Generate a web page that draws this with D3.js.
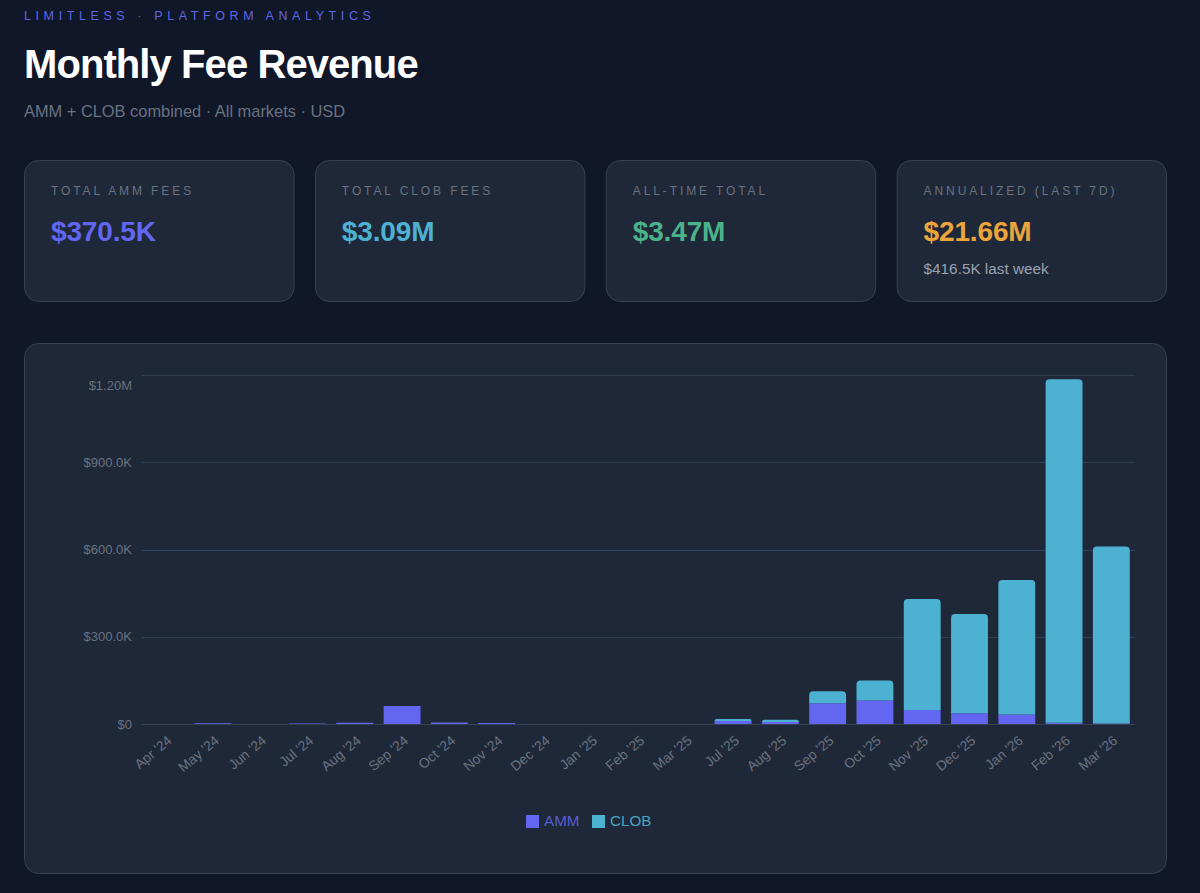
<!DOCTYPE html>
<html><head><meta charset="utf-8">
<script src="https://cdn.jsdelivr.net/npm/d3@7"></script>
<style>
html,body{margin:0;padding:0;background:#0f1728;overflow:hidden}
svg{display:block}
text{font-family:"Liberation Sans",Arial,sans-serif}
</style></head><body><svg id="c" width="1200" height="893"></svg>
<script>
const categories=["Apr '24","May '24","Jun '24","Jul '24","Aug '24","Sep '24","Oct '24","Nov '24","Dec '24","Jan '25","Feb '25","Mar '25","Jul '25","Aug '25","Sep '25","Oct '25","Nov '25","Dec '25","Jan '26","Feb '26","Mar '26"];
const ammValues=[300,2500,300,1500,4500,62000,5000,3500,400,200,200,200,10000,7000,71000,81000,48000,37000,33000,4000,2000];
const clobValues=[0,0,0,0,0,0,0,0,0,0,0,0,7000,8000,42000,69000,382000,341000,462000,1181000,608000];
const yTickValues=[0,300000,600000,900000,1200000];
const yTickLabels=["$0","$300.0K","$600.0K","$900.0K","$1.20M"];
const seriesNames=["AMM","CLOB"];
const seriesColors=["#6366f1","#4db2d2"];
const legendTextColors=["#5a5ed0","#4aa5bf"];
const kpiLabels=["TOTAL AMM FEES","TOTAL CLOB FEES","ALL-TIME TOTAL","ANNUALIZED (LAST 7D)"];
const kpiValues=["$370.5K","$3.09M","$3.47M","$21.66M"];
const kpiColors=["#6366f1","#4db2d2","#4cb28a","#eca53a"];
const kpiNotes=["","","","$416.5K last week"];

const svg=d3.select("#c");
svg.append("rect").attr("width",1200).attr("height",893).attr("fill","#0f1728");
svg.append("text").attr("x",24).attr("y",20).attr("font-size",12.5).attr("letter-spacing",4.6).attr("fill","#6166e6").text("LIMITLESS · PLATFORM ANALYTICS");
svg.append("text").attr("x",24).attr("y",78).attr("font-size",40).attr("font-weight",700).attr("letter-spacing",-0.92).attr("fill","#ffffff").text("Monthly Fee Revenue");
svg.append("text").attr("x",24).attr("y",117).attr("font-size",16.4).attr("fill","#6b7280").text("AMM + CLOB combined · All markets · USD");

const cardX=d3.scalePoint().domain(d3.range(4)).range([24,896.6]);
const cards=svg.selectAll("g.card").data(kpiLabels).join("g").attr("class","card").attr("transform",(d,i)=>`translate(${cardX(i)},160)`);
cards.append("rect").attr("x",.5).attr("y",.5).attr("width",269.5).attr("height",141).attr("rx",14).attr("fill","#1e2839").attr("stroke","#374151");
cards.append("text").attr("x",27).attr("y",35).attr("font-size",12).attr("letter-spacing",2.9).attr("fill","#6b7280").text(d=>d);
cards.append("text").attr("x",27).attr("y",81).attr("font-size",28).attr("font-weight",700).attr("letter-spacing",-0.15).attr("fill",(d,i)=>kpiColors[i]).text((d,i)=>kpiValues[i]);
cards.append("text").attr("x",27).attr("y",114).attr("font-size",15.3).attr("fill","#9ca3af").text((d,i)=>kpiNotes[i]);

svg.append("rect").attr("x",24.5).attr("y",343.5).attr("width",1142).attr("height",530).attr("rx",14).attr("fill","#1e2839").attr("stroke","#374151");

const x=d3.scaleBand().domain(categories).range([142,1135]).paddingInner(0.22).paddingOuter(0.11);
const y=d3.scaleLinear().domain([0,1200000]).range([724,375]);

const gridColors=["#374151","#2f3d52","#2c4160","#2f3d52","#2f3d52"];
svg.append("g").selectAll("line").data(yTickValues).join("line")
  .attr("x1",142).attr("x2",1135).attr("y1",d=>Math.round(y(d))+.5).attr("y2",d=>Math.round(y(d))+.5)
  .attr("stroke",(d,i)=>gridColors[i]);

const yAxis=svg.append("g").attr("transform","translate(142,0)")
  .call(d3.axisLeft(y).tickValues(yTickValues).tickFormat((d,i)=>yTickLabels[i]).tickSize(0).tickPadding(10));
yAxis.select(".domain").remove();
yAxis.selectAll("text").attr("font-size",13).attr("fill","#6b7280").attr("font-family",'"Liberation Sans",Arial,sans-serif')
  .attr("dy",(d)=>d===1200000?"1.09em":"0.32em");

const rows=categories.map((c,i)=>({cat:c,AMM:ammValues[i],CLOB:clobValues[i]}));
const stacked=d3.stack().keys(seriesNames)(rows);
const R=4;
function barPath(d,rounded){
  const x0=x(d.data.cat),w=x.bandwidth(),t=y(d[1]),b=y(d[0]);
  const r=rounded?Math.min(R,(b-t)):0;
  return `M${x0},${b}L${x0},${t+r}Q${x0},${t} ${x0+r},${t}L${x0+w-r},${t}Q${x0+w},${t} ${x0+w},${t+r}L${x0+w},${b}Z`;
}
svg.append("g").selectAll("g").data(stacked).join("g").attr("fill",(s,i)=>seriesColors[i])
  .selectAll("path").data(s=>s.filter(d=>d[1]>d[0]).map(d=>Object.assign(d,{key:s.key}))).join("path")
  .attr("d",d=>barPath(d,d.key==="CLOB"));

const xAxis=svg.append("g").attr("transform","translate(0,724)")
  .call(d3.axisBottom(x).tickSize(0).tickPadding(0));
xAxis.select(".domain").remove();
xAxis.selectAll("text").attr("font-size",13.8).attr("fill","#6b7280").attr("font-family",'"Liberation Sans",Arial,sans-serif')
  .attr("text-anchor","end").attr("dy",0).attr("y",0)
  .attr("transform","translate(7,18) rotate(-40)");

const legendX=d3.scaleOrdinal().domain(seriesNames).range([526,592]);
const lg=svg.append("g").selectAll("g").data(seriesNames).join("g").attr("transform",d=>`translate(${legendX(d)},815)`);
lg.append("rect").attr("width",13).attr("height",13).attr("fill",(d,i)=>seriesColors[i]);
lg.append("text").attr("x",18).attr("y",11).attr("font-size",15.2).attr("fill",(d,i)=>legendTextColors[i]).text(d=>d);
</script></body></html>
